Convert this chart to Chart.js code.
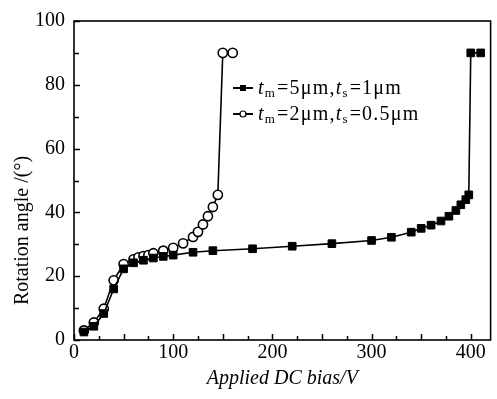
<!DOCTYPE html>
<html>
<head>
<meta charset="utf-8">
<script src="https://cdn.jsdelivr.net/npm/chart.js@4/dist/chart.umd.min.js"></script>
<style>
  html, body { margin: 0; padding: 0; background: #fff; }
  #wrap { width: 497px; height: 399px; }
</style>
</head>
<body>
<div id="wrap"><canvas id="c" width="497" height="399"></canvas></div>
<script>
// ---- data ----
const biasThick = [10, 20, 30, 40, 50, 60, 70, 80, 90, 100, 120, 140, 180, 220, 260, 300, 320, 340, 350, 360, 370, 378, 385, 390, 395, 398, 400, 410];
const angleThick = [2.5, 4.3, 8.3, 16, 22.3, 24.2, 25, 25.7, 26.2, 26.6, 27.5, 28, 28.6, 29.4, 30.2, 31.2, 32.2, 33.8, 35, 36, 37.3, 38.8, 40.6, 42.4, 44, 45.5, 90, 90];

const biasThin = [10, 20, 30, 40, 50, 60, 65, 70, 75, 80, 90, 100, 110, 120, 125, 130, 135, 140, 145, 150, 160];
const angleThin = [3, 5.5, 9.8, 18.7, 23.8, 25.3, 25.9, 26.3, 26.6, 27.2, 28, 28.9, 30.3, 32.3, 33.9, 36.2, 38.8, 41.7, 45.5, 90, 90];

// legend labels as [text, style] segments: style '' normal, 'i' italic, 's' subscript
const labelThick = [['t', 'i'], ['m', 's'], ['=5μm,', ''], ['t', 'i'], ['s', 's'], ['=1μm', '']];
const labelThin = [['t', 'i'], ['m', 's'], ['=2μm,', ''], ['t', 'i'], ['s', 's'], ['=0.5μm', '']];

const xTickLabels = [0, 100, 200, 300, 400];
const yTickLabels = [0, 20, 40, 60, 80, 100];

const FONT = '"Liberation Serif", "Times New Roman", serif';

function toPoints(xs, ys) { return xs.map((x, i) => ({ x: x, y: ys[i] })); }

const frameAndTicks = {
  id: 'frameAndTicks',
  afterDraw(chart) {
    const { ctx, chartArea: a } = chart;
    const xs = chart.scales.x, ys = chart.scales.y;
    ctx.save();
    ctx.strokeStyle = '#000';
    ctx.lineWidth = 1.5;
    ctx.beginPath();
    ys.ticks.forEach(t => {
      if (t.value % 10 !== 0) return;
      const p = Math.round(ys.getPixelForValue(t.value)) + 0.5;
      const len = (t.value % 20 === 0) ? 6 : 5;
      ctx.moveTo(a.left, p); ctx.lineTo(a.left + len, p);
    });
    xs.ticks.forEach(t => {
      if (t.value % 25 !== 0) return;
      const p = Math.round(xs.getPixelForValue(t.value)) + 0.5;
      const len = (t.value % 50 === 0) ? 6 : 4;
      ctx.moveTo(p, a.bottom); ctx.lineTo(p, a.bottom - len);
    });
    ctx.stroke();
    ctx.lineWidth = 1.6;
    ctx.strokeRect(a.left, a.top, a.right - a.left, a.bottom - a.top);
    ctx.restore();
  }
};

const legendPlugin = {
  id: 'customLegend',
  afterDraw(chart) {
    const ctx = chart.ctx;
    const rows = [
      { segs: labelThick, ds: chart.data.datasets[0], y: 88 },
      { segs: labelThin, ds: chart.data.datasets[1], y: 114 }
    ];
    ctx.save();
    rows.forEach(r => {
      // sample line
      ctx.strokeStyle = '#000';
      ctx.lineWidth = 2;
      ctx.beginPath();
      ctx.moveTo(233, r.y); ctx.lineTo(253, r.y);
      ctx.stroke();
      // marker
      ctx.lineWidth = 1.2;
      if (r.ds.pointStyle === 'rect') {
        ctx.fillStyle = '#000';
        ctx.fillRect(240, r.y - 3, 6, 6);
      } else {
        ctx.fillStyle = '#fff';
        ctx.beginPath();
        ctx.arc(243, r.y, 3, 0, Math.PI * 2);
        ctx.fill(); ctx.stroke();
      }
      // text
      let x = 258;
      ctx.fillStyle = '#000';
      ctx.textBaseline = 'alphabetic';
      if ('letterSpacing' in ctx) ctx.letterSpacing = '1.2px';
      const base = r.y + 6;
      r.segs.forEach(([t, st]) => {
        if (st === 's') {
          ctx.font = '13px ' + FONT;
          ctx.fillText(t, x, base + 3);
        } else if (st === 'i') {
          ctx.font = 'italic 20px ' + FONT;
          ctx.fillText(t, x, base);
        } else {
          ctx.font = '20px ' + FONT;
          ctx.fillText(t, x, base);
        }
        x += ctx.measureText(t).width + (st === 's' ? 1 : 0);
      });
    });
    ctx.restore();
  }
};

new Chart(document.getElementById('c'), {
  type: 'scatter',
  data: {
    datasets: [
      {
        label: 'tm=5μm,ts=1μm',
        data: toPoints(biasThick, angleThick),
        showLine: true,
        borderColor: '#000',
        borderWidth: 1.6,
        pointStyle: 'rect',
        pointRadius: 5.4,
        pointBackgroundColor: '#000',
        pointBorderColor: '#000',
        pointBorderWidth: 1
      },
      {
        label: 'tm=2μm,ts=0.5μm',
        data: toPoints(biasThin, angleThin),
        showLine: true,
        borderColor: '#000',
        borderWidth: 1.6,
        pointStyle: 'circle',
        pointRadius: 4.6,
        pointBackgroundColor: '#fff',
        pointBorderColor: '#000',
        pointBorderWidth: 1.6
      }
    ]
  },
  options: {
    responsive: false,
    animation: false,
    layout: { padding: { top: 16, right: 5, left: 0, bottom: 0 } },
    plugins: { legend: { display: false }, tooltip: { enabled: false } },
    scales: {
      x: {
        type: 'linear',
        min: 0, max: 420,
        grid: { display: false, drawTicks: false },
        border: { display: false },
        ticks: {
          stepSize: 25,
          includeBounds: false,
          autoSkip: false,
          maxRotation: 0,
          padding: 1,
          color: '#000',
          font: { family: FONT, size: 20 },
          callback: v => xTickLabels.includes(v) ? String(v) : ''
        },
        title: {
          display: true,
          text: 'Applied DC bias/V',
          color: '#000',
          font: { family: FONT, size: 20, style: 'italic' },
          padding: { top: 0, bottom: 8 }
        },
        afterFit: s => { s.height = 59; }
      },
      y: {
        type: 'linear',
        min: 0, max: 100,
        grid: { display: false, drawTicks: false },
        border: { display: false },
        ticks: {
          stepSize: 10,
          autoSkip: false,
          padding: 9,
          color: '#000',
          font: { family: FONT, size: 20 },
          callback: v => yTickLabels.includes(v) ? String(v) : ''
        },
        title: {
          display: true,
          text: 'Rotation angle /(°)                    ',
          color: '#000',
          font: { family: FONT, size: 20 },
          padding: { top: 11, bottom: 0 }
        },
        afterFit: s => { s.width = 74; }
      }
    }
  },
  plugins: [frameAndTicks, legendPlugin]
});
</script>
</body>
</html>
